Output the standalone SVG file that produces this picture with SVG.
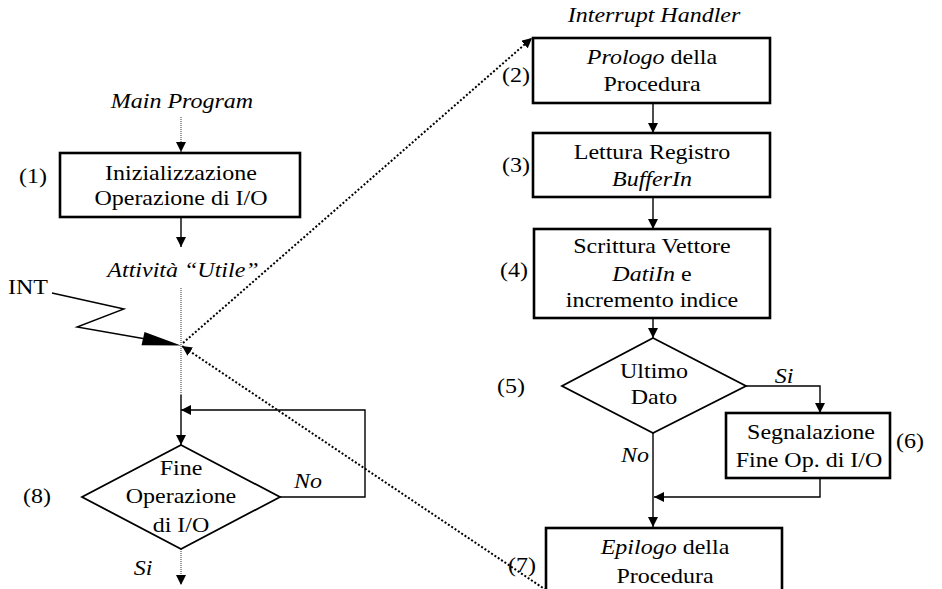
<svg xmlns="http://www.w3.org/2000/svg" width="942" height="589" viewBox="0 0 942 589">
  <style>
    text { font-family: "Liberation Serif", "Times New Roman", serif; font-size: 20px; fill: #000; }
    .c { text-anchor: middle; }
    .i { font-style: italic; }
    .box { fill: #fff; stroke: #000; stroke-width: 2.6; }
    .dia { fill: #fff; stroke: #000; stroke-width: 1.8; }
    .ln { fill: none; stroke: #000; stroke-width: 1.4; }
    .thin { fill: none; stroke: #555; stroke-width: 1.2; stroke-dasharray: 1 1; }
    .dot { fill: none; stroke: #000; stroke-width: 2; stroke-dasharray: 2 2; }
  </style>
  <defs>
    <marker id="arr" viewBox="0 0 10 10" refX="10" refY="5" markerWidth="10" markerHeight="10" markerUnits="userSpaceOnUse" orient="auto">
      <path d="M0,0 L10,5 L0,10 z" fill="#000"/>
    </marker>
  </defs>
  <rect width="942" height="589" fill="#fff"/>

  <!-- connectors -->
  <g id="connectors">
    <!-- main program flow -->
    <line class="thin" x1="181" y1="117" x2="181" y2="152" marker-end="url(#arr)"/>
    <line class="ln" x1="181" y1="217" x2="181" y2="247" marker-end="url(#arr)"/>
    <line class="thin" x1="181" y1="288" x2="181" y2="395"/>
    <line class="ln" x1="181" y1="395" x2="181" y2="445" marker-end="url(#arr)"/>
    <polyline class="ln" points="280,497 365,497 365,410 181,410" marker-end="url(#arr)"/>
    <line class="thin" x1="181" y1="549" x2="181" y2="585" marker-end="url(#arr)"/>
    <!-- interrupt request -->
    <polyline class="ln" points="52,293 124,309 77,327 143,338.5"/>
    <polygon points="181,345.5 141.5,345.3 144.5,332" fill="#000"/>
    <!-- jump to handler and return -->
    <line class="dot" x1="183" y1="343" x2="532" y2="38" marker-end="url(#arr)"/>
    <line class="dot" x1="546" y1="590" x2="182" y2="346" marker-end="url(#arr)"/>
    <!-- handler flow -->
    <line class="ln" x1="653" y1="103" x2="653" y2="133" marker-end="url(#arr)"/>
    <line class="ln" x1="653" y1="197" x2="653" y2="229" marker-end="url(#arr)"/>
    <line class="ln" x1="653" y1="318" x2="653" y2="338" marker-end="url(#arr)"/>
    <polyline class="ln" points="746,386 820,386 820,413" marker-end="url(#arr)"/>
    <line class="ln" x1="653" y1="433" x2="653" y2="527" marker-end="url(#arr)"/>
    <polyline class="ln" points="820,478 820,497 654,497" marker-end="url(#arr)"/>
  </g>

  <!-- main program -->
  <g id="main-title">
    <text class="c i" transform="translate(182,108) scale(1.2 1)">Main Program</text>
  </g>
  <g id="n1">
    <rect class="box" x="60" y="153" width="240" height="64"/>
    <text class="c" transform="translate(181,180) scale(1.2 1)">Inizializzazione</text>
    <text class="c" transform="translate(181,205) scale(1.2 1)">Operazione di I/O</text>
    <text class="c" transform="translate(33,183) scale(1.2 1)">(1)</text>
  </g>
  <g id="useful-work">
    <text class="c i" transform="translate(183,277) scale(1.2 1)">Attività “Utile”</text>
  </g>
  <g id="int">
    <text transform="translate(8,294) scale(1.2 1)">INT</text>
  </g>
  <g id="n8">
    <polygon class="dia" points="181,445 280,497 181,549 82,497"/>
    <text class="c" transform="translate(181,475) scale(1.2 1)">Fine</text>
    <text class="c" transform="translate(181,503) scale(1.2 1)">Operazione</text>
    <text class="c" transform="translate(181,532) scale(1.2 1)">di I/O</text>
    <text class="c" transform="translate(37,503) scale(1.2 1)">(8)</text>
    <text class="c i" transform="translate(308,488) scale(1.2 1)">No</text>
    <text class="c i" transform="translate(143,575) scale(1.2 1)">Si</text>
  </g>

  <!-- interrupt handler -->
  <g id="handler-title">
    <text class="c i" transform="translate(654,22) scale(1.2 1)">Interrupt Handler</text>
  </g>
  <g id="n2">
    <rect class="box" x="533" y="38" width="237" height="65"/>
    <text class="c" transform="translate(652,64) scale(1.2 1)"><tspan class="i">Prologo</tspan> della</text>
    <text class="c" transform="translate(652,91) scale(1.2 1)">Procedura</text>
    <text class="c" transform="translate(516,82) scale(1.2 1)">(2)</text>
  </g>
  <g id="n3">
    <rect class="box" x="533" y="133" width="237" height="64"/>
    <text class="c" transform="translate(652,159) scale(1.2 1)">Lettura Registro</text>
    <text class="c i" transform="translate(652,186) scale(1.2 1)">BufferIn</text>
    <text class="c" transform="translate(516,172) scale(1.2 1)">(3)</text>
  </g>
  <g id="n4">
    <rect class="box" x="534" y="229" width="236" height="89"/>
    <text class="c" transform="translate(652,253) scale(1.2 1)">Scrittura Vettore</text>
    <text class="c" transform="translate(652,281) scale(1.2 1)"><tspan class="i">DatiIn</tspan> e</text>
    <text class="c" transform="translate(652,307) scale(1.2 1)">incremento indice</text>
    <text class="c" transform="translate(514,277) scale(1.2 1)">(4)</text>
  </g>
  <g id="n5">
    <polygon class="dia" points="653,338 746,386 653,433 562,386"/>
    <text class="c" transform="translate(654,378) scale(1.2 1)">Ultimo</text>
    <text class="c" transform="translate(654,404) scale(1.2 1)">Dato</text>
    <text class="c" transform="translate(511,393) scale(1.2 1)">(5)</text>
    <text class="c i" transform="translate(784,383) scale(1.2 1)">Si</text>
    <text class="c i" transform="translate(635,462) scale(1.2 1)">No</text>
  </g>
  <g id="n6">
    <rect class="box" x="726" y="413" width="164" height="65"/>
    <text class="c" transform="translate(811,439) scale(1.2 1)">Segnalazione</text>
    <text class="c" transform="translate(809,467) scale(1.2 1)">Fine Op. di I/O</text>
    <text class="c" transform="translate(910,448) scale(1.2 1)">(6)</text>
  </g>
  <g id="n7">
    <rect class="box" x="546" y="528" width="236" height="90"/>
    <text class="c" transform="translate(665,554) scale(1.2 1)"><tspan class="i">Epilogo</tspan> della</text>
    <text class="c" transform="translate(665,583) scale(1.2 1)">Procedura</text>
    <text class="c" transform="translate(522,572) scale(1.2 1)">(7)</text>
  </g>
</svg>
